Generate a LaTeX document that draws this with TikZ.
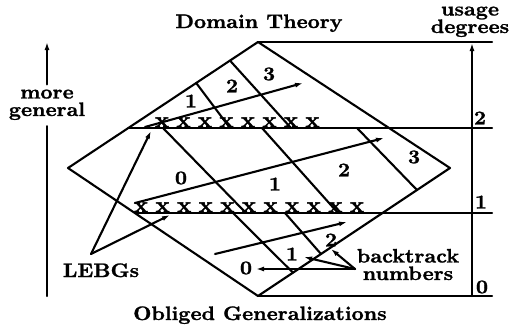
\documentclass[tikz,border=0pt]{standalone}
\usepackage{fontspec}
\newfontfamily\bxfont{lmroman10-bold.otf}[FakeStretch=1.08, FakeBold=1.3]
\usetikzlibrary{arrows.meta}
\tikzset{
  ln/.style={line width=2.1pt, line cap=round, line join=round},
  arr/.style={ln, -{Latex[length=8pt,width=5pt]}},
  lbl/.style={font=\fontsize{19.5}{17.5}\selectfont\bxfont, inner sep=0pt, align=center},
  xm/.style={font=\fontsize{22}{16}\selectfont\bxfont, inner sep=0pt, anchor=south},
}
\begin{document}
\begin{tikzpicture}[x=1pt,y=-1pt]
\useasboundingbox (0,0) rectangle (509,332);
% diamond
\coordinate (T) at (258,42);
\coordinate (L) at (68,168);
\coordinate (B) at (258,296);
\coordinate (R) at (450,168);
\draw[ln] (T) -- (L) -- (B) -- (R) -- cycle;
% level lines
\coordinate (h3r) at (492,42);
\coordinate (h2l) at (128.3,128);
\coordinate (h2r) at (492,128);
\coordinate (h1l) at (134.8,213);
\coordinate (h1r) at (492,213);
\coordinate (h0r) at (492,296);
\draw[ln] (T) -- (h3r);
\draw[ln] (h2l) -- (h2r);
\draw[ln] (h1l) -- (h1r);
\draw[ln] (B) -- (h0r);
% right axis
\coordinate (ra0) at (472,296);
\coordinate (ra1) at (472,43);
\draw[arr] (ra0) -- (ra1);
\node[lbl, anchor=base] (ud) at (470,33) {usage\\degrees};
\node[lbl] (d2) at (480,118) {2};
\node[lbl] (d1) at (481,202) {1};
\node[lbl] (d0) at (482,287) {0};
% left axis
\coordinate (la0) at (47,296);
\coordinate (la1) at (47,42);
\node[lbl, anchor=base] (mg) at (47,116) {more\\general};
\draw[ln, shorten >=6pt] (la0) -- (mg.south);
\draw[arr, shorten <=5pt] (mg.north) -- (la1);
% titles
\node[lbl, anchor=base] (dt) at (259,28) {Domain Theory};
\node[lbl, anchor=base] (og) at (260,320) {Obliged Generalizations};
% diagonals
\coordinate (t1a) at (196.2,83);  \coordinate (t1b) at (230,128);
\coordinate (t2a) at (230,60.6);  \coordinate (t2b) at (291,128);
\coordinate (m1a) at (163,128);   \coordinate (m1b) at (246,213);
\coordinate (m2a) at (262,128);   \coordinate (m2b) at (338,213);
\coordinate (m3a) at (357,128);   \coordinate (m3b) at (417,190);
\coordinate (b1a) at (233,213);   \coordinate (b1b) at (293,272.7);
\coordinate (b2a) at (285,213);   \coordinate (b2b) at (321,254);
\foreach \a/\b in {t1a/t1b,t2a/t2b,m1a/m1b,m2a/m2b,m3a/m3b,b1a/b1b,b2a/b2b}
  \draw[ln] (\a) -- (\b);
% x marks
\foreach \i in {0,...,7}
  \node[xm] (xt\i) at (162+21.5*\i,127.3) {x};
\foreach \i in {0,...,10}
  \node[xm] (xb\i) at (141+21.6*\i,212.3) {x};
% search arrows
\coordinate (s3a) at (145,127); \coordinate (s3b) at (303,83);
\coordinate (s2a) at (135,203); \coordinate (s2b) at (384,138);
\coordinate (s1a) at (215,254); \coordinate (s1b) at (347,222);
\draw[arr] (s3a) -- (s3b);
\draw[arr] (s2a) -- (s2b);
\draw[arr] (s1a) -- (s1b);
% cell numbers
\node[lbl] (c31) at (191,101) {1};
\node[lbl] (c32) at (232,86) {2};
\node[lbl] (c33) at (269,74) {3};
\node[lbl] (c20) at (181,178) {0};
\node[lbl] (c21) at (275,184) {1};
\node[lbl] (c22) at (344,170) {2};
\node[lbl] (c23) at (414,157) {3};
\node[lbl] (c10) at (246,268) {0};
\node[lbl] (c11) at (292,254) {1};
\node[lbl] (c12) at (331,240) {2};
% LEBGs
\node[lbl, anchor=base] (lebg) at (101,277) {LEBGs};
\coordinate (lb) at (91,254);
\coordinate (lbt1) at (151,131);
\coordinate (lbt2) at (170,215);
\draw[arr] (lb) -- (lbt1);
\draw[arr] (lb) -- (lbt2);
% backtrack numbers
\node[lbl, anchor=base] (btn) at (408,280) {backtrack\\numbers};
\coordinate (bt) at (355,269);
\coordinate (bt0) at (256,269);
\coordinate (bt1) at (304,257);
\coordinate (bt2) at (331,249);
\draw[arr] (bt) -- (bt0);
\draw[arr] (bt) -- (bt1);
\draw[arr] (bt) -- (bt2);
\end{tikzpicture}
\end{document}
